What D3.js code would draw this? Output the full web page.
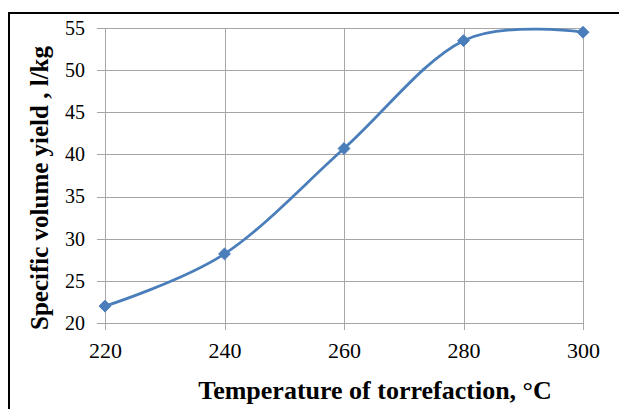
<!DOCTYPE html>
<html>
<head>
<meta charset="utf-8">
<script src="https://cdn.jsdelivr.net/npm/d3@7"></script>
<style>
  body { margin: 0; background: #fff; }
  svg { display: block; }
  .tick text { font-family: "Liberation Serif", "Times New Roman", serif; fill: #000; }
  .y-axis .tick text { font-size: 20px; }
  .x-axis .tick text { font-size: 22px; }
  .title { font-family: "Liberation Serif", "Times New Roman", serif; font-weight: bold; fill: #000; }
</style>
</head>
<body>
<div id="chart"></div>
<script>
// chart data
const temperatures = [220, 240, 260, 280, 300];
const volumeYield = [22.0, 28.2, 40.7, 53.5, 54.5];
const xTicks = [220, 240, 260, 280, 300];
const yTicks = [20, 25, 30, 35, 40, 45, 50, 55];

const W = 619, H = 409;
const margin = {top: 28, right: 36, bottom: 86, left: 105};

const svg = d3.select("#chart").append("svg")
    .attr("width", W)
    .attr("height", H);

// outer frame (top and left edges only)
svg.append("path")
    .attr("d", `M9,${H} L9,13 L${W},13`)
    .attr("fill", "none")
    .attr("stroke", "#000")
    .attr("stroke-width", 2);

const x = d3.scaleLinear()
    .domain([220, 300])
    .range([margin.left, W - margin.right]);

const y = d3.scaleLinear()
    .domain([20, 55])
    .range([H - margin.bottom, margin.top]);

// gridlines, with the tick marks sticking out past the axes
svg.append("g")
    .selectAll("line")
    .data(yTicks)
    .join("line")
    .attr("x1", x(220) - 8)
    .attr("x2", x(300))
    .attr("y1", d => Math.round(y(d)) + 0.5)
    .attr("y2", d => Math.round(y(d)) + 0.5)
    .attr("stroke", "#a6a6a6")
    .attr("stroke-width", 1);

svg.append("g")
    .selectAll("line")
    .data(xTicks)
    .join("line")
    .attr("x1", d => Math.round(x(d)) + 0.5)
    .attr("x2", d => Math.round(x(d)) + 0.5)
    .attr("y1", y(55))
    .attr("y2", y(20) + 7)
    .attr("stroke", "#a6a6a6")
    .attr("stroke-width", 1);

// axes (labels only, lines drawn as grid)
const yAxis = svg.append("g")
    .attr("class", "y-axis")
    .attr("transform", `translate(${x(220)},0)`)
    .call(d3.axisLeft(y).tickValues(yTicks).tickSize(0).tickPadding(20));
yAxis.select(".domain").remove();

const xAxis = svg.append("g")
    .attr("class", "x-axis")
    .attr("transform", `translate(0,${y(20)})`)
    .call(d3.axisBottom(x).tickValues(xTicks).tickSize(0).tickPadding(19));
xAxis.select(".domain").remove();

// axis titles
svg.append("text")
    .attr("class", "title")
    .attr("transform", `translate(48,188) rotate(-90)`)
    .attr("text-anchor", "middle")
    .style("font-size", "25px")
    .text("Specific volume yield , l/kg");

svg.append("text")
    .attr("class", "title")
    .attr("x", 375)
    .attr("y", 399)
    .attr("text-anchor", "middle")
    .style("font-size", "26px")
    .text("Temperature of torrefaction, °C");

// smoothed line
const pts = temperatures.map((t, i) => [t, volumeYield[i]]);
const line = d3.line()
    .x(d => x(d[0]))
    .y(d => y(d[1]))
    .curve(d3.curveCardinal.tension(0));

svg.append("path")
    .datum(pts)
    .attr("d", line)
    .attr("fill", "none")
    .attr("stroke", "#4a7ebb")
    .attr("stroke-width", 2.75);

// diamond markers
svg.append("g")
    .selectAll("path")
    .data(pts)
    .join("path")
    .attr("d", d3.symbol().type(d3.symbolDiamond2).size(90))
    .attr("transform", d => `translate(${x(d[0])},${y(d[1])})`)
    .attr("fill", "#4a7ebb")
    .attr("stroke", "#4a7ebb")
    .attr("stroke-width", 1);
</script>
</body>
</html>
